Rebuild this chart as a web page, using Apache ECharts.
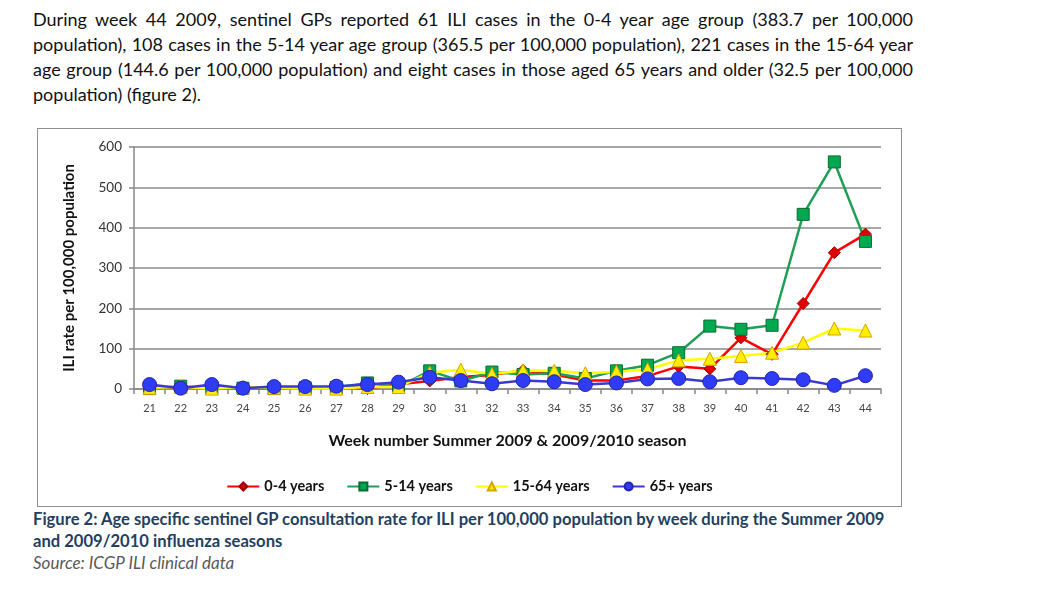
<!DOCTYPE html>
<html>
<head>
<meta charset="utf-8">
<script src="https://cdn.jsdelivr.net/npm/echarts@6/dist/echarts.min.js"></script>
<style>
  body { margin: 0; background: #fff; width: 1060px; height: 591px; position: relative; overflow: hidden; font-family: Lato, "Open Sans", sans-serif; }
  .para { position: absolute; left: 33px; top: 7px; width: 880px; font-size: 18px; line-height: 25px; color: #111; }
  .para div { white-space: nowrap; text-align: justify; text-align-last: justify; }
  .para div.last { text-align-last: left; }
  #chart_box { position: absolute; left: 37px; top: 128px; width: 863px; height: 377px; border: 1px solid #8f8f8f; }
  #chart_view { width: 863px; height: 377px; }
  .caption { position: absolute; left: 33px; top: 508px; font-size: 16.6px; line-height: 22px; font-weight: bold; color: #243f60; }
  .source { position: absolute; left: 33px; top: 552px; font-size: 17px; font-style: italic; color: #595959; }
</style>
</head>
<body>
<div class="para">
  <div>During week 44 2009, sentinel GPs reported 61 ILI cases in the 0-4 year age group (383.7 per 100,000</div>
  <div>population), 108 cases in the 5-14 year age group (365.5 per 100,000 population), 221 cases in the 15-64 year</div>
  <div>age group (144.6 per 100,000 population) and eight cases in those aged 65 years and older (32.5 per 100,000</div>
  <div class="last">population) (figure 2).</div>
</div>
<div id="chart_box"><div id="chart_view"></div></div>
<div class="caption">Figure 2: Age specific sentinel GP consultation rate for ILI per 100,000 population by week during the Summer 2009<br>and 2009/2010 influenza seasons</div>
<div class="source">Source: ICGP ILI clinical data</div>
<script type="text/javascript">
  // week numbers
  var weeks = ['21','22','23','24','25','26','27','28','29','30','31','32','33','34','35','36','37','38','39','40','41','42','43','44'];
  // ILI rate per 100,000 population
  var age_0_4   = [5, 3, 3, 3, 4, 4, 5, 1, 12, 20, 30, 35, 46, 36, 21, 21, 32, 56, 50, 127, 86, 212, 338, 384];
  var age_5_14  = [1, 7, 2, 2, 1, 3, 4, 15, 5, 45, 20, 42, 36, 39, 26, 45, 59, 90, 156, 148, 158, 433, 563, 366];
  var age_15_64 = [3, 5, 1, 5, 3, 1, 1, 5, 5, 40, 48, 37, 46, 45, 39, 43, 49, 71, 75, 82, 90, 115, 150, 145];
  var age_65    = [11, 2, 11, 2, 6, 6, 7, 11, 17, 29, 21, 13, 21, 18, 11, 15, 25, 26, 18, 28, 26, 23, 9, 33];
  var yTicks = [0, 100, 200, 300, 400, 500, 600];

  var myChart = echarts.init(document.getElementById('chart_view'));
  var axisFont = 'Lato, "Open Sans", sans-serif';

  function lineSeries(name, data, lineColor, symbol, size, fill, border) {
    return {
      name: name,
      type: 'line',
      data: data,
      symbol: symbol,
      symbolSize: size,
      showAllSymbol: true,
      lineStyle: { color: lineColor, width: 2.5 },
      itemStyle: { color: fill, borderColor: border, borderWidth: 1 },
      emphasis: { disabled: true },
      animation: false
    };
  }

  var option = {
    animation: false,
    legend: {
      left: 'center',
      top: 345,
      itemWidth: 32,
      itemHeight: 10,
      itemGap: 22,
      textStyle: { fontFamily: axisFont, fontWeight: 'bold', fontSize: 14.5, color: '#111' },
      data: ['0-4 years', '5-14 years', '15-64 years', '65+ years']
    },
    grid: { left: 96, top: 18, right: 20, bottom: 117 },
    xAxis: {
      type: 'category',
      data: weeks,
      boundaryGap: true,
      name: 'Week number Summer 2009 & 2009/2010 season',
      nameLocation: 'middle',
      nameGap: 44,
      nameTextStyle: { fontFamily: axisFont, fontWeight: 'bold', fontSize: 16, color: '#111' },
      axisLine: { lineStyle: { color: '#888', width: 1.5 } },
      axisTick: { show: true, length: 5, lineStyle: { color: '#888', width: 1.5 } },
      axisLabel: { fontFamily: axisFont, fontSize: 11, color: '#444', margin: 14 }
    },
    yAxis: {
      type: 'value',
      min: 0,
      max: 600,
      interval: 100,
      name: 'ILI rate per 100,000 population',
      nameLocation: 'middle',
      nameGap: 57,
      nameRotate: 90,
      nameTextStyle: { fontFamily: axisFont, fontWeight: 'bold', fontSize: 15, color: '#111' },
      axisLine: { show: true, lineStyle: { color: '#888', width: 1.5 } },
      axisTick: { show: true, length: 5, lineStyle: { color: '#888', width: 1.5 } },
      axisLabel: {
        fontFamily: axisFont, fontSize: 13.5, color: '#333', margin: 12,
        formatter: function (v) { return yTicks.indexOf(v) >= 0 ? String(v) : ''; }
      },
      splitLine: { lineStyle: { color: '#8a8a8a', width: 1.5 } }
    },
    series: [
      lineSeries('0-4 years', age_0_4, '#ff0000', 'diamond', 12, '#e00000', '#a00000'),
      lineSeries('5-14 years', age_5_14, '#1f9e55', 'rect', 12, '#00a84f', '#0b6b30'),
      lineSeries('15-64 years', age_15_64, '#ffff00', 'triangle', 13, '#ffee00', '#d9a300'),
      lineSeries('65+ years', age_65, '#3a3ad0', 'circle', 14, '#2e3cf5', '#2424b0')
    ]
  };
  myChart.setOption(option);
</script>
</body>
</html>
